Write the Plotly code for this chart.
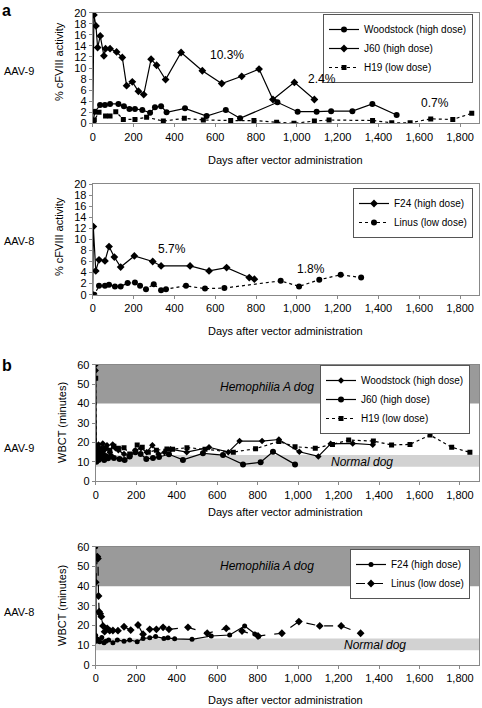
import plotly.graph_objects as go

FONT = "Liberation Sans, Arial, sans-serif"

# ---------------- Panel a, AAV-9 (% cFVIII activity) ----------------
a9_woodstock_days = [0, 11, 36, 60, 85, 126, 153, 180, 207, 243, 281, 305, 335, 362, 452, 558, 652, 722, 905, 1004, 1097, 1168, 1272, 1370, 1489]
a9_woodstock_vals = [0, 2.1, 3.3, 3.3, 3.5, 3.5, 3.1, 2.6, 2.6, 2.4, 1.9, 2.9, 3.1, 2.0, 2.7, 1.3, 2.4, 0.9, 3.8, 2.1, 2.1, 2.2, 2.2, 3.5, 1.5]
a9_j60_days = [0, 6, 16, 24, 37, 55, 63, 85, 117, 145, 166, 194, 224, 250, 286, 313, 357, 433, 537, 632, 730, 815, 883, 988, 1086]
a9_j60_vals = [0, 19.6, 17.6, 13.7, 15.8, 12.2, 13.5, 13.5, 12.9, 11.9, 6.8, 7.5, 5.8, 5.2, 11.6, 10.5, 7.9, 12.8, 9.5, 7.2, 8.5, 9.8, 4.3, 7.4, 4.3]
a9_h19_days = [0, 8, 31, 63, 85, 113, 150, 207, 264, 346, 449, 542, 676, 790, 901, 986, 1086, 1158, 1371, 1465, 1555, 1656, 1764, 1857]
a9_h19_vals = [0, 0.6, 2.0, 1.3, 1.3, 2.1, 0.7, 0.7, 1.1, 0.4, 0.9, 0.6, 0.5, 0.5, 0.2, 0.0, 0.4, 0.6, 0.5, 0.1, 0.1, 0.8, 0.7, 1.8]

# ---------------- Panel a, AAV-8 ----------------
a8_f24_days = [0, 3, 15, 31, 60, 80, 106, 137, 204, 294, 335, 477, 570, 656, 767, 792]
a8_f24_vals = [0, 12.3, 4.3, 6.3, 6.1, 8.7, 6.8, 5.0, 7.0, 6.0, 5.2, 5.2, 4.3, 4.9, 3.1, 2.8]
a8_linus_days = [0, 8, 31, 60, 80, 109, 137, 171, 207, 232, 261, 299, 335, 359, 457, 550, 645, 921, 1011, 1110, 1215, 1315]
a8_linus_vals = [0, 0, 1.6, 1.6, 1.8, 1.5, 1.5, 2.1, 2.2, 1.6, 1.0, 1.9, 0.8, 1.0, 1.6, 1.1, 1.2, 2.5, 1.5, 2.7, 3.6, 3.1]

# ---------------- Panel b, AAV-9 (WBCT) ----------------
b9_woodstock_days = [0, 0, 3, 7, 14, 21, 28, 35, 42, 56, 70, 84, 98, 112, 140, 168, 196, 224, 252, 280, 310, 340, 370, 450, 560, 655, 711, 822, 905, 1006, 1100, 1161, 1270, 1369]
b9_woodstock_vals = [60, 57, 17, 15, 19, 14, 17, 19.5, 16, 18.5, 15, 19, 17, 16, 14, 13, 16, 17, 15, 18.5, 14, 15, 16.5, 15, 17.5, 15, 20.7, 20.7, 21.5, 15.2, 12.8, 19.3, 19.5, 18.8]
b9_j60_days = [0, 3, 7, 14, 21, 28, 35, 42, 49, 61, 75, 90, 118, 143, 168, 196, 222, 250, 283, 313, 362, 431, 530, 629, 728, 815, 876, 985]
b9_j60_vals = [11, 10, 13, 11, 15, 12, 14, 11, 13, 11.8, 13, 12, 11.5, 11, 12.7, 15, 14, 11.5, 12, 12.5, 13.9, 11, 14.4, 13.5, 8.7, 9.8, 15.2, 8.7]
b9_h19_days = [0, 3, 10, 20, 35, 50, 70, 90, 112, 140, 168, 205, 230, 260, 300, 352, 380, 451, 540, 680, 790, 905, 985, 1085, 1170, 1250, 1372, 1462, 1553, 1652, 1759, 1849]
b9_h19_vals = [53, 12, 18, 16, 15, 17, 16, 18, 17, 17.3, 14, 18.7, 17.5, 15, 16, 16.6, 16.5, 17.3, 16.5, 15, 16.8, 20.5, 17.8, 17, 19, 21.2, 20.7, 18.7, 19, 23.8, 17.5, 14.9]

# ---------------- Panel b, AAV-8 ----------------
b8_f24_days = [0, 0, 3, 10, 20, 30, 41, 50, 64, 85, 107, 140, 168, 205, 234, 267, 296, 337, 357, 390, 476, 571, 662, 736, 786, 805]
b8_f24_vals = [60, 15, 12, 13, 11.8, 14, 11.3, 12, 12.7, 11.3, 12.7, 12, 12.7, 11.8, 13.5, 13.8, 14.4, 13.5, 13.8, 13.3, 13.0, 14.7, 15.2, 19.8, 15.7, 14.4]
b8_linus_days = [0, 8, 11, 14, 17, 22, 28, 36, 44, 57, 69, 85, 110, 140, 173, 209, 234, 267, 300, 333, 362, 456, 551, 645, 723, 802, 920, 1004, 1107, 1213, 1309]
b8_linus_vals = [42, 55, 54, 35, 27, 26, 24.5, 19.8, 16.9, 18.6, 17.4, 17.5, 17.4, 19.4, 17.7, 20.3, 15.6, 18.1, 18.1, 19.1, 18.1, 19.1, 16.1, 18.6, 17.2, 14.7, 16.1, 22.0, 19.8, 19.8, 16.1]

x_ticks = [0, 200, 400, 600, 800, 1000, 1200, 1400, 1600, 1800]
hemophilia_band = [40, 60]
normal_band = [7.5, 13.5]

W, H = 482, 708
def px_x(p): return p / W
def px_y(p): return 1 - p / H

fig = go.Figure()

def add(xs, ys, name, sym, dash, xa, ya, legend, size=5):
    fig.add_trace(go.Scatter(
        x=xs, y=ys, name=name, mode="lines+markers",
        line=dict(color="black", width=1.2, dash=dash),
        marker=dict(symbol=sym, size=size, color="black"),
        xaxis=xa, yaxis=ya, legend=legend))

add(a9_woodstock_days, a9_woodstock_vals, "Woodstock (high dose)", "circle", "solid", "x", "y", "legend", 6)
add(a9_j60_days, a9_j60_vals, "J60 (high dose)", "diamond", "solid", "x", "y", "legend", 6)
add(a9_h19_days, a9_h19_vals, "H19 (low dose)", "square", "dot", "x", "y", "legend", 5)

add(a8_f24_days, a8_f24_vals, "F24 (high dose)", "diamond", "solid", "x2", "y2", "legend2", 6)
add(a8_linus_days, a8_linus_vals, "Linus (low dose)", "circle", "dot", "x2", "y2", "legend2", 6)

add(b9_woodstock_days, b9_woodstock_vals, "Woodstock (high dose)", "diamond", "solid", "x3", "y3", "legend3", 5)
add(b9_j60_days, b9_j60_vals, "J60 (high dose)", "circle", "solid", "x3", "y3", "legend3", 6)
add(b9_h19_days, b9_h19_vals, "H19 (low dose)", "square", "dot", "x3", "y3", "legend3", 5)

add(b8_f24_days, b8_f24_vals, "F24 (high dose)", "circle", "solid", "x4", "y4", "legend4", 5)
add(b8_linus_days, b8_linus_vals, "Linus (low dose)", "diamond", "dash", "x4", "y4", "legend4", 6)

tickfont = dict(family=FONT, size=11, color="black")
def xax(dom_px, rng, anchor):
    return dict(domain=[px_x(dom_px[0]), px_x(dom_px[1])], range=rng, anchor=anchor,
                tickvals=x_ticks, tickformat=",d", ticks="outside", ticklen=3, tickcolor="#888",
                showline=True, linecolor="#888", linewidth=1, mirror=True, showgrid=False,
                zeroline=False, tickfont=tickfont, automargin=False)
def yax(dom_px, rng, dtick, anchor):
    return dict(domain=[px_y(dom_px[1]), px_y(dom_px[0])], range=rng, anchor=anchor,
                dtick=dtick, ticks="outside", ticklen=3, tickcolor="#888",
                showline=True, linecolor="#888", linewidth=1, mirror=True, showgrid=False,
                zeroline=False, tickfont=tickfont, automargin=False)

fig.update_layout(
    width=W, height=H, margin=dict(l=0, r=0, t=0, b=0, autoexpand=False),
    paper_bgcolor="white", plot_bgcolor="rgba(0,0,0,0)",
    font=dict(family=FONT, color="black"),
    xaxis=xax([92.7, 478.5], [0, 1890], "y"),
    yaxis=yax([12.7, 123.3], [0, 20], 2, "x"),
    xaxis2=xax([92.7, 478.5], [0, 1890], "y2"),
    yaxis2=yax([184, 294.7], [0, 20], 2, "x2"),
    xaxis3=xax([95.7, 479], [0, 1894], "y3"),
    yaxis3=yax([364.7, 481.3], [0, 60], 10, "x3"),
    xaxis4=xax([95.7, 479], [0, 1894], "y4"),
    yaxis4=yax([546.7, 665], [0, 60], 10, "x4"),
)

leg = dict(bgcolor="white", bordercolor="#555", borderwidth=1,
           font=dict(family=FONT, size=10, color="black"),
           xanchor="right", yanchor="top", tracegroupgap=0, itemwidth=30)
fig.update_layout(
    legend=dict(leg, x=px_x(473), y=px_y(14)),
    legend2=dict(leg, x=px_x(473), y=px_y(188)),
    legend3=dict(leg, x=px_x(470), y=px_y(365)),
    legend4=dict(leg, x=px_x(470), y=px_y(549)),
)

# background bands for WBCT panels
for xa, ya in (("x3", "y3"), ("x4", "y4")):
    fig.add_shape(type="rect", xref=xa, yref=ya, x0=0, x1=1894,
                  y0=hemophilia_band[0], y1=hemophilia_band[1],
                  fillcolor="#9a9a9a", line=dict(width=0), layer="below")
    fig.add_shape(type="rect", xref=xa, yref=ya, x0=0, x1=1894,
                  y0=normal_band[0], y1=normal_band[1],
                  fillcolor="#d2d2d2", line=dict(width=0), layer="below")

band_labels = [("x3", "y3", 846, 48.5, "Hemophilia A dog"), ("x3", "y3", 1316, 9.9, "Normal dog"),
               ("x4", "y4", 846, 50.2, "Hemophilia A dog"), ("x4", "y4", 1380, 10.1, "Normal dog")]
for xa, ya, xv, yv, t in band_labels:
    fig.add_annotation(x=xv, y=yv, xref=xa, yref=ya, text=f"<i>{t}</i>",
                       showarrow=False, font=dict(family=FONT, size=12))

# percentage annotations
pct = [("x", "y", 658, 12.3, "10.3%"), ("x", "y", 1123, 8.0, "2.4%"), ("x", "y", 1677, 3.7, "0.7%"),
       ("x2", "y2", 388, 8.3, "5.7%"), ("x2", "y2", 1070, 4.6, "1.8%")]
for xa, ya, xv, yv, t in pct:
    fig.add_annotation(x=xv, y=yv, xref=xa, yref=ya, text=t, showarrow=False,
                       font=dict(family=FONT, size=12))

def paper_text(xp, yp, text, size=11, angle=0, bold=False, xanchor="center"):
    fig.add_annotation(x=px_x(xp), y=px_y(yp), xref="paper", yref="paper",
                       text=f"<b>{text}</b>" if bold else text, showarrow=False,
                       textangle=angle, xanchor=xanchor, yanchor="middle",
                       font=dict(family=FONT, size=size, color="black"))

# axis titles
for yp in (160, 331, 512, 700):
    paper_text(285, yp, "Days after vector administration")
paper_text(59, 62, "% cFVIII activity", angle=-90)
paper_text(59, 237, "% cFVIII activity", angle=-90)
paper_text(62, 422, "WBCT (minutes)", angle=-90)
paper_text(62, 605, "WBCT (minutes)", angle=-90)

# group labels
paper_text(2, 71, "AAV-9", xanchor="left")
paper_text(2, 241, "AAV-8", xanchor="left")
paper_text(2, 448, "AAV-9", xanchor="left")
paper_text(2, 612, "AAV-8", xanchor="left")
paper_text(0, 10, "a", size=16, bold=True, xanchor="left")
paper_text(0, 365, "b", size=16, bold=True, xanchor="left")

fig.write_html("out.html", config={"displayModeBar": False},
               post_script="document.body.style.margin='0';document.body.style.overflow='hidden';")
